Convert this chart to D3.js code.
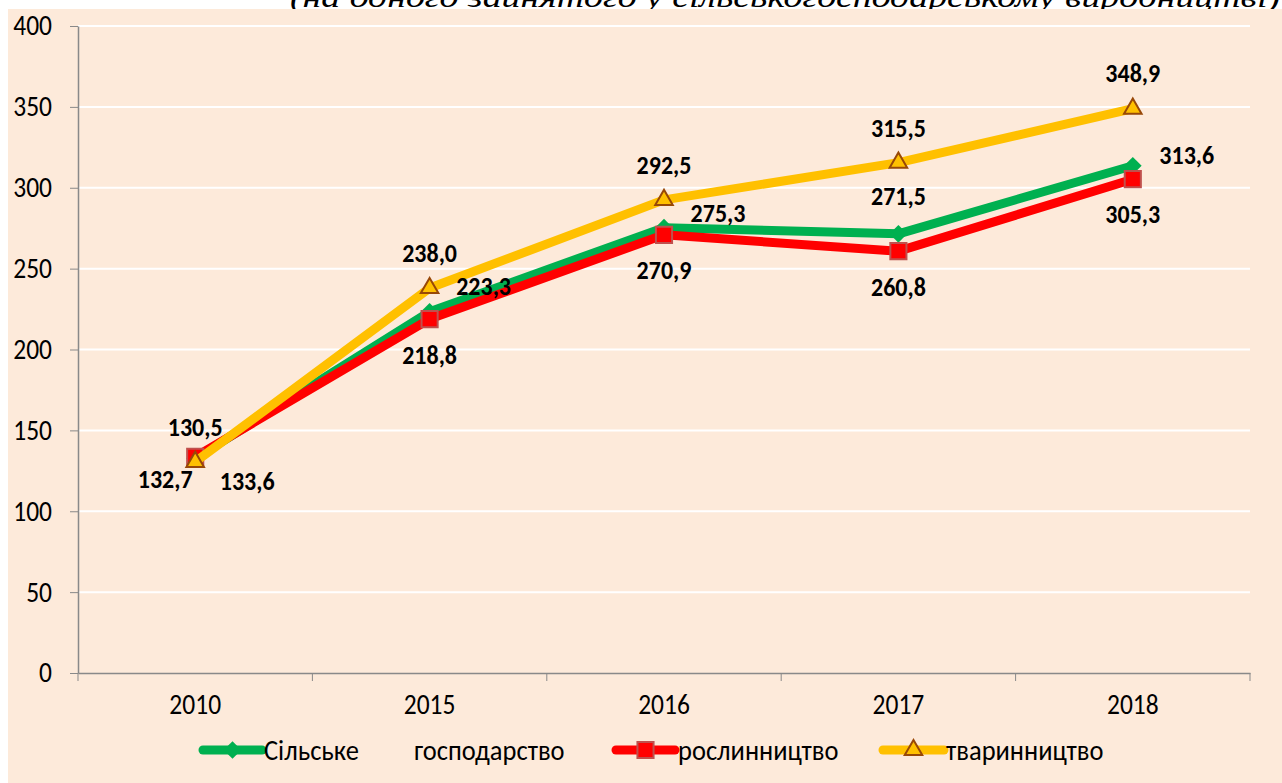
<!DOCTYPE html>
<html>
<head>
<meta charset="utf-8">
<script src="https://cdn.jsdelivr.net/npm/d3@7"></script>
<style>
  body { margin: 0; background: #fff; }
  svg text { font-family: Carlito, Lato, "Noto Sans", sans-serif; }
</style>
</head>
<body>
<div id="chart"></div>
<script>
const width = 1282;
const height = 783;

// дані
const years = ["2010", "2015", "2016", "2017", "2018"];
const agriculture = [132.7, 223.3, 275.3, 271.5, 313.6];
const crops = [133.6, 218.8, 270.9, 260.8, 305.3];
const livestock = [130.5, 238.0, 292.5, 315.5, 348.9];
const yTicks = [0, 50, 100, 150, 200, 250, 300, 350, 400];
const seriesNames = ["Сільське", "рослинництво", "тваринництво"];
const subtitle = "(на одного зайнятого у сільськогосподарському виробництві)";

// зсуви підписів (dx, dy) від точки
const agriOffsets = [[-30, 21], [54, -26], [54, -15], [0, -38], [54, -11]];
const cropOffsets = [[52, 24], [0, 36], [0, 35], [0, 36], [0, 35]];
const liveOffsets = [[0, -35], [0, -35], [0, -35], [0, -35], [0, -36]];

const margin = { top: 26, left: 78, right: 32, bottom: 110 };
const stretchK = 1.1;

// текст у Excel трохи витягнутий по вертикалі
function stretch(sel) {
  sel.attr("transform", function () {
    const yy = +this.getAttribute("y") || 0;
    return `translate(0,${yy * (1 - stretchK)}) scale(1,${stretchK})`;
  });
}

const svg = d3.select("#chart")
  .append("svg")
  .attr("width", width)
  .attr("height", height);

// обрізаний підзаголовок зверху
svg.append("text")
  .attr("x", 1280)
  .attr("y", 7)
  .attr("text-anchor", "end")
  .style("font-family", "'Liberation Serif', serif")
  .style("font-style", "italic")
  .style("font-size", "29px")
  .attr("textLength", 990)
  .attr("lengthAdjust", "spacingAndGlyphs")
  .text(subtitle);

// фон
svg.append("rect")
  .attr("x", 8).attr("y", 9)
  .attr("width", width - 8).attr("height", height - 9)
  .attr("fill", "#FDEADA");

const x = d3.scaleBand()
  .domain(years)
  .range([margin.left, width - margin.right]);

const y = d3.scaleLinear()
  .domain([0, 400])
  .range([673, 26]);

// сітка
svg.append("g")
  .selectAll("line")
  .data(yTicks.slice(1))
  .enter()
  .append("line")
  .attr("x1", margin.left).attr("x2", width - margin.right)
  .attr("y1", d => y(d)).attr("y2", d => y(d))
  .attr("stroke", "#fff")
  .attr("stroke-width", 2);

// осі
const yAxis = svg.append("g")
  .attr("transform", `translate(${margin.left},0)`)
  .call(d3.axisLeft(y).tickValues(yTicks).tickSize(8).tickSizeOuter(0).tickPadding(18));

const xAxis = svg.append("g")
  .attr("transform", `translate(0,${y(0)})`)
  .call(d3.axisBottom(x).tickSize(0).tickPadding(21));

xAxis.selectAll(".tick line").remove();
xAxis.append("g")
  .selectAll("line")
  .data(d3.range(years.length + 1))
  .enter()
  .append("line")
  .attr("x1", i => margin.left + i * x.step())
  .attr("x2", i => margin.left + i * x.step())
  .attr("y1", 0).attr("y2", 8)
  .attr("stroke", "#898989");

[yAxis, xAxis].forEach(a => {
  a.select(".domain").attr("stroke", "#898989").attr("stroke-width", 1.5);
  a.selectAll(".tick line").attr("stroke", "#898989");
  a.selectAll("text")
    .style("font-family", "Carlito, Lato, 'Noto Sans', sans-serif")
    .style("font-size", "25.5px")
    .attr("fill", "#000")
    .call(stretch);
});

const cx = d => x(d) + x.bandwidth() / 2;

const diamond = d3.symbol().type(d3.symbolDiamond2).size(200);
const square = d3.symbol().type(d3.symbolSquare).size(260);
const triangle = d3.symbol().type(d3.symbolTriangle2).size(220);

const series = [
  { values: agriculture, color: "#00B050", stroke: "none", sym: diamond, offsets: agriOffsets },
  { values: crops, color: "#FF0000", stroke: "#C0504D", sym: square, offsets: cropOffsets },
  { values: livestock, color: "#FFC000", stroke: "#984807", sym: triangle, offsets: liveOffsets }
];

const line = d3.line()
  .x((d, i) => cx(years[i]))
  .y(d => y(d));

series.forEach(s => {
  const g = svg.append("g");
  g.append("path")
    .attr("d", line(s.values))
    .attr("fill", "none")
    .attr("stroke", s.color)
    .attr("stroke-width", 9)
    .attr("stroke-linejoin", "round");
  g.selectAll("path.m")
    .data(s.values)
    .enter()
    .append("path")
    .attr("class", "m")
    .attr("transform", (d, i) => `translate(${cx(years[i])},${y(d)})`)
    .attr("d", s.sym)
    .attr("fill", s.color)
    .attr("stroke", s.stroke)
    .attr("stroke-width", 2);
});

// підписи даних
series.forEach(s => {
  svg.append("g")
    .selectAll("text")
    .data(s.values)
    .enter()
    .append("text")
    .attr("x", (d, i) => cx(years[i]) + s.offsets[i][0])
    .attr("y", (d, i) => y(d) + s.offsets[i][1])
    .attr("text-anchor", "middle")
    .attr("dominant-baseline", "central")
    .style("font-size", "24px")
    .style("font-weight", "bold")
    .text(d => d.toFixed(1).replace(".", ","))
    .call(stretch);
});

// легенда
const legendY = 750;
const legend = [
  { x1: 203, x2: 262, tx: 264, s: series[0] },
  { x1: 616, x2: 675, tx: 678, s: series[1] },
  { x1: 883, x2: 944, tx: 946, s: series[2] }
];
legend.forEach((l, i) => {
  svg.append("line")
    .attr("x1", l.x1).attr("x2", l.x2)
    .attr("y1", legendY).attr("y2", legendY)
    .attr("stroke", l.s.color)
    .attr("stroke-width", 9)
    .attr("stroke-linecap", "round");
  svg.append("path")
    .attr("transform", `translate(${(l.x1 + l.x2) / 2},${legendY})`)
    .attr("d", l.s.sym)
    .attr("fill", l.s.color)
    .attr("stroke", l.s.stroke)
    .attr("stroke-width", 2);
  svg.append("text")
    .attr("x", l.tx).attr("y", legendY)
    .attr("dominant-baseline", "central")
    .style("font-size", "26.5px")
    .text(seriesNames[i])
    .call(stretch);
});
svg.append("text")
  .attr("x", 414).attr("y", legendY)
  .attr("dominant-baseline", "central")
  .style("font-size", "26.5px")
  .text("господарство")
  .call(stretch);
</script>
</body>
</html>
